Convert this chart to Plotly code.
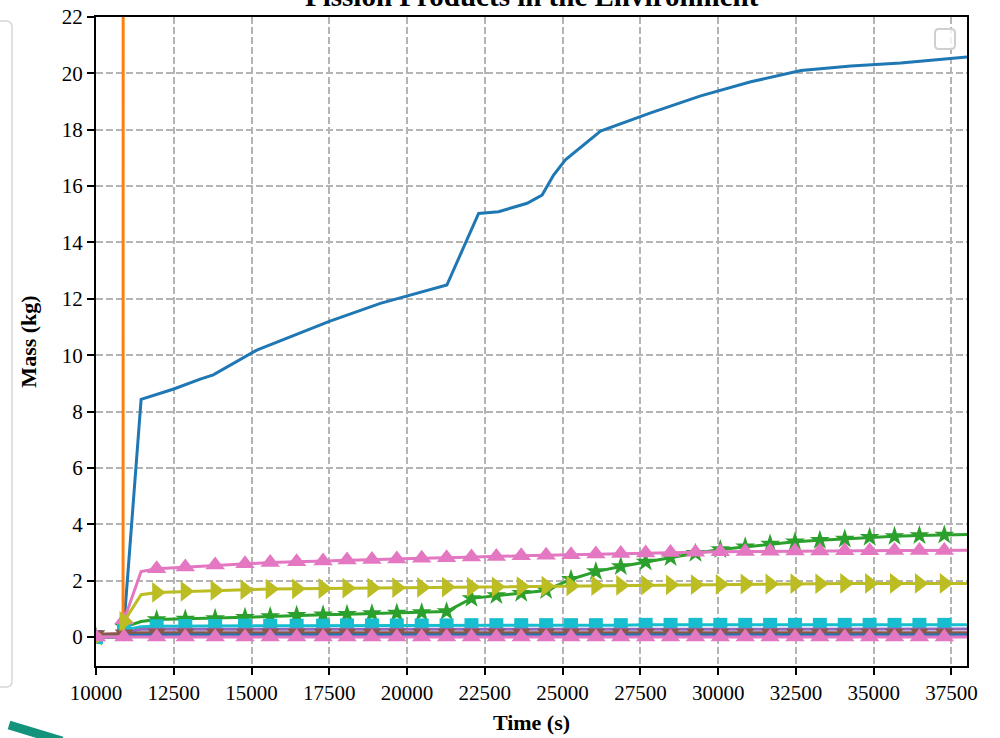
import plotly.graph_objects as go

title = "Fission Products in the Environment"
x_label = "Time (s)"
y_label = "Mass (kg)"

x_ticks = [10000, 12500, 15000, 17500, 20000, 22500, 25000, 27500, 30000, 32500, 35000, 37500]
y_ticks = [0, 2, 4, 6, 8, 10, 12, 14, 16, 18, 20, 22]

# main (blue) curve, no markers
blue_t = [10000, 10870, 11450, 12500, 13350, 13770, 15170, 17500, 19140, 20000, 21280,
          22300, 22940, 23860, 24340, 24710, 25090, 26220, 27830, 29440, 31050, 32660,
          34270, 35870, 38000]
blue_v = [0, 0, 8.43, 8.8, 9.15, 9.3, 10.18, 11.2, 11.84, 12.1, 12.49,
          15.03, 15.09, 15.39, 15.68, 16.39, 16.93, 17.95, 18.6, 19.2, 19.7, 20.1,
          20.26, 20.37, 20.58]

# orange curve: jumps far above the visible range
orange_t = [10000, 10870, 10890, 38000]
orange_v = [0, 0, 120, 120]

# shared time grid of the marked series
t = [10000, 10870, 10900, 11450, 11950, 12870, 13830, 14790, 15600, 16450, 17300,
     18070, 18870, 19670, 20470, 21270, 22070, 22870, 23670, 24470, 25270, 26070,
     26870, 27670, 28470, 29270, 30070, 30870, 31670, 32470, 33270, 34070, 34870,
     35670, 36470, 37270, 38000]
# times that carry a marker
marker_t = [10000, 10900, 11950, 12870, 13830, 14790, 15600, 16450, 17300,
            18070, 18870, 19670, 20470, 21270, 22070, 22870, 23670, 24470, 25270, 26070,
            26870, 27670, 28470, 29270, 30070, 30870, 31670, 32470, 33270, 34070, 34870,
            35670, 36470, 37270]

green_v = [0, 0, 0.35, 0.55, 0.62, 0.64, 0.66, 0.7, 0.73, 0.77, 0.79,
           0.81, 0.83, 0.85, 0.87, 0.9, 1.37, 1.47, 1.55, 1.65, 2.05, 2.32,
           2.5, 2.66, 2.82, 2.97, 3.1, 3.2, 3.3, 3.38, 3.43, 3.48, 3.54,
           3.57, 3.6, 3.62, 3.64]
pink_v = [0, 0, 0.6, 2.32, 2.42, 2.48, 2.55, 2.6, 2.64, 2.67, 2.7,
          2.73, 2.75, 2.77, 2.79, 2.81, 2.84, 2.86, 2.88, 2.9, 2.92, 2.94,
          2.96, 2.98, 3.0, 3.01, 3.02, 3.03, 3.04, 3.05, 3.05, 3.06, 3.06,
          3.07, 3.07, 3.07, 3.08]
olive_v = [0, 0, 0.55, 1.5, 1.58, 1.62, 1.65, 1.68, 1.7, 1.71, 1.72,
           1.73, 1.74, 1.75, 1.76, 1.77, 1.77, 1.78, 1.79, 1.8, 1.81, 1.82,
           1.83, 1.84, 1.85, 1.86, 1.87, 1.88, 1.88, 1.89, 1.89, 1.9, 1.9,
           1.9, 1.9, 1.9, 1.9]
cyan_v = [0, 0, 0.25, 0.36, 0.38, 0.39, 0.39, 0.4, 0.4, 0.4, 0.4,
          0.41, 0.41, 0.41, 0.41, 0.41, 0.42, 0.42, 0.42, 0.42, 0.42, 0.42,
          0.42, 0.43, 0.43, 0.43, 0.43, 0.43, 0.43, 0.43, 0.43, 0.43, 0.43,
          0.43, 0.43, 0.43, 0.43]
purple_v = [0, 0, 0.15, 0.27, 0.27, 0.27, 0.27, 0.28, 0.28, 0.28, 0.28,
            0.28, 0.28, 0.28, 0.28, 0.28, 0.28, 0.28, 0.28, 0.28, 0.28, 0.28,
            0.28, 0.28, 0.28, 0.28, 0.28, 0.28, 0.28, 0.28, 0.28, 0.28, 0.28,
            0.28, 0.28, 0.28, 0.28]
brown_v = [0.1, 0.1, 0.12, 0.15, 0.15, 0.15, 0.15, 0.15, 0.15, 0.15, 0.15,
           0.15, 0.15, 0.15, 0.15, 0.15, 0.15, 0.15, 0.15, 0.15, 0.15, 0.15,
           0.15, 0.15, 0.15, 0.15, 0.15, 0.15, 0.15, 0.15, 0.15, 0.15, 0.15,
           0.15, 0.15, 0.15, 0.15]
blue_low_v = [0, 0, 0.05, 0.07, 0.07, 0.07, 0.07, 0.07, 0.07, 0.07, 0.07,
              0.07, 0.07, 0.07, 0.07, 0.07, 0.07, 0.07, 0.07, 0.07, 0.07, 0.07,
              0.07, 0.07, 0.07, 0.07, 0.07, 0.07, 0.07, 0.07, 0.07, 0.07, 0.07,
              0.07, 0.07, 0.07, 0.07]
pink_zero_v = [0] * len(t)

# ---------------- figure ----------------
FONT = "Liberation Serif"
fig = go.Figure()

fig.add_trace(go.Scatter(x=blue_t, y=blue_v, mode="lines",
                         line=dict(color="#1f77b4", width=3)))
fig.add_trace(go.Scatter(x=orange_t, y=orange_v, mode="lines",
                         line=dict(color="#ff7f0e", width=3)))

marked = set(marker_t)


def add_marked(values, color, symbol, size, lw=3):
    sizes = [size if ti in marked else 0 for ti in t]
    fig.add_trace(go.Scatter(
        x=t, y=values, mode="lines+markers",
        line=dict(color=color, width=lw),
        marker=dict(color=color, symbol=symbol, size=sizes, opacity=1,
                    line=dict(width=0)),
    ))


add_marked(green_v, "#2ca02c", "star", 15)
add_marked(cyan_v, "#17becf", "square", 14)
add_marked(purple_v, "#9467bd", "circle", 0)
add_marked(brown_v, "#8c564b", "triangle-down", 16)
add_marked(pink_v, "#e377c2", "triangle-up", 17)
add_marked(olive_v, "#bcbd22", "triangle-right", 18)
add_marked(blue_low_v, "#1f77b4", "circle", 0)
add_marked(pink_zero_v, "#e377c2", "triangle-up", 17)

# page geometry (the body margin is removed, so figure px == screen px)
FW, FH = 1000, 738
L, R, T, B = 96, 967, 17, 666
W, H = R - L, B - T


def px(x):  # screen x -> paper
    return (x - L) / W


def py(y):  # screen y -> paper
    return (B - y) / H


shapes = []
# empty legend box (top right)
x0, x1, y0, y1, r = 935, 955, 29, 49, 4
path = (f"M {px(x0 + r)},{py(y0)} L {px(x1 - r)},{py(y0)} Q {px(x1)},{py(y0)} {px(x1)},{py(y0 + r)} "
        f"L {px(x1)},{py(y1 - r)} Q {px(x1)},{py(y1)} {px(x1 - r)},{py(y1)} "
        f"L {px(x0 + r)},{py(y1)} Q {px(x0)},{py(y1)} {px(x0)},{py(y1 - r)} "
        f"L {px(x0)},{py(y0 + r)} Q {px(x0)},{py(y0)} {px(x0 + r)},{py(y0)} Z")
shapes.append(dict(type="path", xref="paper", yref="paper", path=path,
                   line=dict(color="#cfcfcf", width=2), fillcolor="rgba(255,255,255,0.8)"))
# rounded panel edge at the far left
x0, x1, y0, y1, r = -20, 12, 21, 687, 6
path = (f"M {px(x0)},{py(y0)} L {px(x1 - r)},{py(y0)} Q {px(x1)},{py(y0)} {px(x1)},{py(y0 + r)} "
        f"L {px(x1)},{py(y1 - r)} Q {px(x1)},{py(y1)} {px(x1 - r)},{py(y1)} L {px(x0)},{py(y1)}")
shapes.append(dict(type="path", xref="paper", yref="paper", path=path,
                   line=dict(color="#d6d6d6", width=1.5)))
# teal stroke at bottom left
shapes.append(dict(type="line", xref="paper", yref="paper",
                   x0=px(9), y0=py(725), x1=px(62), y1=py(741),
                   line=dict(color="#13937c", width=9)))

axis_common = dict(
    showline=True, linecolor="black", linewidth=2, mirror=True,
    ticks="outside", ticklen=7, tickwidth=2, tickcolor="black",
    showgrid=True, gridcolor="#b4b4b4", gridwidth=1.5, griddash="7px,3px",
    zeroline=False, automargin=False, ticklabeloverflow="allow",
    tickfont=dict(family=FONT, size=21, color="black"),
)

fig.update_layout(
    width=FW, height=FH,
    margin=dict(l=L, r=FW - R, t=T, b=FH - B, autoexpand=False),
    paper_bgcolor="white", plot_bgcolor="white",
    showlegend=False,
    shapes=shapes,
    xaxis=dict(range=[10000, 38000], tickvals=x_ticks,
               ticktext=[str(v) for v in x_ticks],
               title=dict(text=f"<b>{x_label}</b>", standoff=10,
                          font=dict(family=FONT, size=22, color="black")),
               **axis_common),
    yaxis=dict(range=[-1.03, 22], tickvals=y_ticks,
               ticktext=[str(v) for v in y_ticks],
               title=dict(text=f"<b>{y_label}</b>", standoff=19,
                          font=dict(family=FONT, size=22, color="black")),
               **axis_common),
    annotations=[dict(text=f"<b>{title}</b>", xref="paper", yref="paper",
                      x=0.5, y=1, xanchor="center", yanchor="bottom", yshift=3,
                      showarrow=False,
                      font=dict(family=FONT, size=29, color="black"))],
)

fig.write_html(
    "out.html",
    config={"displayModeBar": False},
    post_script="document.body.style.margin='0';document.body.style.overflow='hidden';",
)
